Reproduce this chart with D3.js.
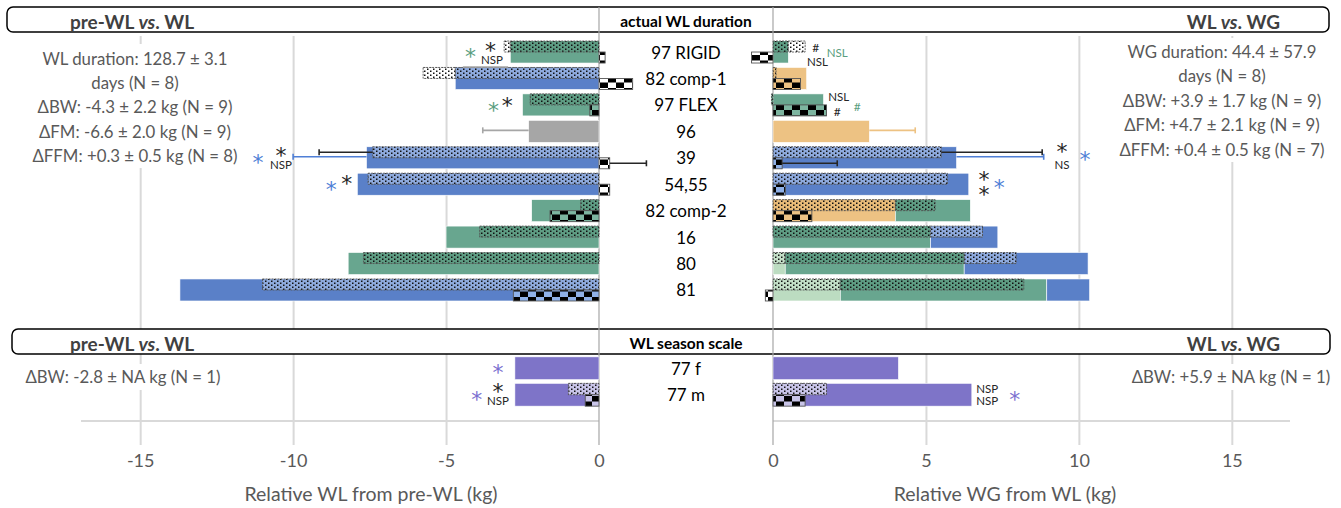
<!DOCTYPE html>
<html>
<head>
<meta charset="utf-8">
<script src="https://cdn.jsdelivr.net/npm/d3@7"></script>
<style>
  body { margin: 0; background: #fff; }
  svg text { font-family: Lato, "Open Sans", sans-serif; }
  svg text.star { font-family: "DejaVu Sans", sans-serif; }
</style>
</head>
<body>
<svg id="chart" width="1341" height="508"></svg>
<script>
// ---- data ----
var categories = ["97 RIGID", "82 comp-1", "97 FLEX", "96", "39", "54,55", "82 comp-2", "16", "80", "81"];
var seasonCategories = ["77 f", "77 m"];

var wlTicks = [-15, -10, -5, 0];
var wgTicks = [0, 5, 10, 15];

// segments: [category, start (kg), end (kg), colour]
var wlBW = [
  ["97 RIGID", 0, -2.9, "green"], ["82 comp-1", 0, -4.7, "blue"], ["97 FLEX", 0, -2.5, "green"],
  ["96", 0, -2.3, "gray"], ["39", 0, -7.6, "blue"], ["54,55", 0, -7.9, "blue"],
  ["82 comp-2", 0, -2.2, "green"], ["16", 0, -5.0, "green"], ["80", 0, -8.2, "green"],
  ["81", 0, -13.7, "blue"], ["77 f", 0, -2.75, "purple"], ["77 m", 0, -2.75, "purple"]
];
var wlFM = [
  ["97 RIGID", 0, -2.9, "green"], ["97 RIGID", -2.9, -3.1, "white"],
  ["82 comp-1", 0, -4.7, "blue"], ["82 comp-1", -4.7, -5.75, "white"],
  ["97 FLEX", 0, -2.25, "green"], ["39", 0, -7.4, "blue"], ["54,55", 0, -7.55, "blue"],
  ["82 comp-2", 0, -0.6, "green"], ["16", 0, -3.9, "green"], ["80", 0, -7.7, "green"],
  ["81", 0, -11.0, "blue"], ["77 m", 0, -1.0, "purple"]
];
var wlFFM = [
  ["97 RIGID", 0, 0.2, "white"], ["82 comp-1", 0, 1.1, "white"], ["97 FLEX", 0, -0.3, "green"],
  ["39", 0, 0.35, "white"], ["54,55", 0, 0.35, "white"], ["82 comp-2", 0, -1.6, "green"],
  ["81", 0, -2.8, "blue"], ["77 m", 0, -0.45, "purple"]
];
var wgBW = [
  ["97 RIGID", 0, 0.5, "green"], ["82 comp-1", 0, 1.1, "orange"], ["97 FLEX", 0, 1.65, "green"],
  ["96", 0, 3.15, "orange"], ["39", 0, 6.0, "blue"], ["54,55", 0, 6.4, "blue"],
  ["82 comp-2", 0, 4.0, "orange"], ["82 comp-2", 4.0, 6.45, "green"],
  ["16", 0, 5.15, "green"], ["16", 5.15, 7.35, "blue"],
  ["80", 0, 0.4, "lightgreen"], ["80", 0.4, 6.25, "green"], ["80", 6.25, 10.3, "blue"],
  ["81", 0, 2.2, "lightgreen"], ["81", 2.2, 8.95, "green"], ["81", 8.95, 10.35, "blue"],
  ["77 f", 0, 4.1, "purple"], ["77 m", 0, 6.5, "purple"]
];
var wgFM = [
  ["97 RIGID", 0, 0.5, "green"], ["97 RIGID", 0.5, 1.05, "white"], ["82 comp-1", 0, 0.1, "orange"],
  ["97 FLEX", 0, -0.05, "green"], ["39", 0, 5.5, "blue"], ["54,55", 0, 5.7, "blue"],
  ["82 comp-2", 0, 4.0, "orange"], ["82 comp-2", 4.0, 5.3, "green"],
  ["16", 0, 5.15, "green"], ["16", 5.15, 6.85, "blue"],
  ["80", 0, 0.4, "lightgreen"], ["80", 0.4, 6.25, "green"], ["80", 6.25, 7.95, "blue"],
  ["81", 0, 2.2, "lightgreen"], ["81", 2.2, 8.2, "green"], ["77 m", 0, 1.75, "purple"]
];
var wgFFM = [
  ["97 RIGID", 0, -0.7, "white"], ["82 comp-1", 0, 0.9, "orange"], ["97 FLEX", 0, 1.75, "green"],
  ["39", 0, 0.3, "blue"], ["54,55", 0, 0.4, "blue"], ["82 comp-2", 0, 1.27, "orange"],
  ["81", 0, -0.25, "white"], ["77 m", 0, 1.05, "purple"]
];

// error bars: [category, part, from (kg), to (kg), colour]
var wlErrors = [
  ["97 RIGID", "below", -2.97, -4.45, "gray"], ["96", "BW", -2.3, -3.8, "gray"],
  ["39", "FM", -7.4, -9.15, "dark"], ["39", "BW", -7.6, -10.0, "blue"], ["39", "FFM", 0.35, 1.55, "dark"]
];
var wgErrors = [
  ["96", "BW", 3.15, 4.65, "orange"], ["39", "FM", 5.5, 8.8, "dark"],
  ["39", "BW", 6.0, 8.85, "blue"], ["39", "FFM", 0.3, 2.1, "dark"]
];

// significance marks: [category, at (kg), text, colour]
var wlMarks = [
  ["97 RIGID", -4.2, "*", "green"], ["97 RIGID", -3.55, "*", "dark"], ["97 RIGID", -3.5, "NSP", "dark"],
  ["97 FLEX", -3.45, "*", "green"], ["97 FLEX", -3.0, "*", "dark"],
  ["39", -11.15, "*", "blue"], ["39", -10.4, "*", "dark"], ["39", -10.4, "NSP", "dark"],
  ["54,55", -8.75, "*", "blue"], ["54,55", -8.25, "*", "dark"],
  ["77 f", -3.3, "*", "purple"], ["77 m", -4.0, "*", "purple"], ["77 m", -3.3, "*", "dark"], ["77 m", -3.3, "NSP", "dark"]
];
var wgMarks = [
  ["97 RIGID", 1.4, "#", "dark"], ["97 RIGID", 2.1, "NSL", "green"], ["97 RIGID", 1.45, "NSL", "dark"],
  ["97 FLEX", 2.15, "NSL", "dark"], ["97 FLEX", 2.1, "#", "dark"], ["97 FLEX", 2.75, "#", "green"],
  ["39", 9.45, "*", "dark"], ["39", 9.45, "NS", "dark"], ["39", 10.2, "*", "blue"],
  ["54,55", 6.9, "*", "dark"], ["54,55", 6.9, "*", "dark"], ["54,55", 7.4, "*", "blue"],
  ["77 m", 7.0, "NSP", "dark"], ["77 m", 7.0, "NSP", "dark"], ["77 m", 7.9, "*", "purple"]
];
// vertical offsets of the marks above, in px from the row centre (layout only)
var wlMarkDy = [0, -6, 8, 1, -4, 0, -7, 7, 1, -5, 0, 0, -8, 6];
var wgMarkDy = [-4, 1, 10, -8, 7, 2, -11, 7, -3, -9, 6, -1, -6, 6, 0];

var wlInfo = ["WL duration: 128.7 ± 3.1", "days (N = 8)", "ΔBW: -4.3 ± 2.2 kg (N = 9)", "ΔFM: -6.6 ± 2.0 kg (N = 9)", "ΔFFM: +0.3 ± 0.5 kg (N = 8)"];
var wgInfo = ["WG duration: 44.4 ± 57.9", "days (N = 8)", "ΔBW: +3.9 ± 1.7 kg (N = 9)", "ΔFM: +4.7 ± 2.1 kg (N = 9)", "ΔFFM: +0.4 ± 0.5 kg (N = 7)"];
var seasonWlInfo = "ΔBW: -2.8 ± NA kg (N = 1)";
var seasonWgInfo = "ΔBW: +5.9 ± NA kg (N = 1)";

// ---- styling ----
var solid = {blue: "#5a80c8", green: "#68a68f", orange: "#edc283", gray: "#a6a6a6", lightgreen: "#bcdcc1", purple: "#7e74c8", white: "#ffffff"};
var dotBg = {blue: "#8eaadd", green: "#5e9c83", orange: "#e9bb78", lightgreen: "#c3dfc7", purple: "#c8c4e8", white: "#ffffff"};
var chkBg = {blue: "#8fb1e8", green: "#7db5a0", orange: "#edc283", purple: "#c8c4e8", white: "#ffffff"};
var inkColor = {dark: "#262626", blue: "#4f7fd6", green: "#5a9e80", purple: "#7b6fd0", gray: "#a6a6a6", orange: "#edc283"};

var svg = d3.select("#chart");
var defs = svg.append("defs");

Object.keys(dotBg).forEach(function (k) {
  var p = defs.append("pattern").attr("id", "dot-" + k).attr("patternUnits", "userSpaceOnUse")
    .attr("width", 6).attr("height", 4);
  p.append("rect").attr("width", 6).attr("height", 4).attr("fill", dotBg[k]);
  p.append("rect").attr("x", 1).attr("y", 0.5).attr("width", 1.5).attr("height", 1.5).attr("fill", "#111");
  p.append("rect").attr("x", 4).attr("y", 2.5).attr("width", 1.5).attr("height", 1.5).attr("fill", "#111");
});
Object.keys(chkBg).forEach(function (k) {
  var p = defs.append("pattern").attr("id", "chk-" + k).attr("patternUnits", "userSpaceOnUse")
    .attr("width", 16).attr("height", 11);
  p.append("rect").attr("width", 16).attr("height", 11).attr("fill", chkBg[k]);
  p.append("rect").attr("x", 0).attr("y", 0).attr("width", 8).attr("height", 5.5).attr("fill", "#000");
  p.append("rect").attr("x", 8).attr("y", 5.5).attr("width", 8).attr("height", 5.5).attr("fill", "#000");
});

// ---- scales ----
var xL = d3.scaleLinear().domain([-17, 0]).range([79, 599]);
var xR = d3.scaleLinear().domain([0, 17]).range([773, 1293]);
var yTop = d3.scaleBand().domain(categories).range([38.8, 303.2]).paddingInner(0.168).paddingOuter(0.084);
var ySea = d3.scaleBand().domain(seasonCategories).range([355, 408]).paddingInner(0.14).paddingOuter(0.07);

function yOf(cat) { return categories.indexOf(cat) >= 0 ? yTop : ySea; }

var GRID_TOP = 36, GRID_BOT = 445, AXIS_Y = 421;

// gridlines
function grid(x, ticks) {
  var ax = d3.axisBottom(x).tickValues(ticks).tickSize(-(GRID_BOT - GRID_TOP)).tickFormat("");
  var g = svg.append("g").attr("transform", "translate(0," + GRID_BOT + ")").call(ax);
  g.select(".domain").remove();
  g.selectAll("line").attr("stroke", "#d9d9d9").attr("stroke-width", 2);
}
grid(xL, [-15, -10, -5]);
grid(xR, [5, 10, 15]);

svg.append("line").attr("x1", xL(-17) + 2).attr("x2", xL(0)).attr("y1", AXIS_Y).attr("y2", AXIS_Y)
  .attr("stroke", "#d9d9d9").attr("stroke-width", 2);
svg.append("line").attr("x1", xR(0)).attr("x2", xR(17) - 3).attr("y1", AXIS_Y).attr("y2", AXIS_Y)
  .attr("stroke", "#d9d9d9").attr("stroke-width", 2);

// info text blocks (white backing hides gridlines)
function infoBlock(lines, cx, y0, step, bg) {
  svg.append("rect").attr("x", bg[0]).attr("y", bg[1]).attr("width", bg[2]).attr("height", bg[3]).attr("fill", "#fff");
  svg.append("g").selectAll("text").data(lines).join("text")
    .attr("x", cx).attr("y", function (d, i) { return y0 + i * step; })
    .attr("text-anchor", "middle").attr("dominant-baseline", "central")
    .attr("font-size", 16.8).attr("fill", "#595959").text(function (d) { return d; });
}
infoBlock(wlInfo, 135, 58, 24.4, [26, 44, 218, 124]);
infoBlock(wgInfo, 1222, 51, 24.5, [1114, 38, 220, 124]);
infoBlock([seasonWlInfo], 123, 376, 0, [20, 364, 210, 26]);
infoBlock([seasonWgInfo], 1231, 376, 0, [1126, 364, 210, 26]);

// header boxes
function header(y, h, x0, x1, left, mid, right) {
  svg.append("rect").attr("x", x0).attr("y", y).attr("width", x1 - x0).attr("height", h).attr("rx", 6)
    .attr("fill", "#fff").attr("stroke", "#000").attr("stroke-width", 1.5);
  var cy = y + h / 2 + 1;
  function t(x, anchor, size, col, parts) {
    var el = svg.append("text").attr("x", x).attr("y", cy).attr("text-anchor", anchor)
      .attr("dominant-baseline", "central").attr("font-weight", "bold").attr("font-size", size).attr("fill", col);
    parts.forEach(function (p) {
      el.append("tspan").attr("font-style", p[1] ? "italic" : null).text(p[0]);
    });
  }
  t(70, "start", 19, "#404040", left);
  t(686, "middle", 15.5, "#000", [[mid, false]]);
  t(1280, "end", 19, "#404040", right);
}
header(7, 25, 7, 1329, [["pre-WL ", false], ["vs", true], [". WL", false]], "actual WL duration", [["WL ", false], ["vs", true], [". WG", false]]);
header(329, 25, 12, 1330, [["pre-WL ", false], ["vs", true], [". WL", false]], "WL season scale", [["WL ", false], ["vs", true], [". WG", false]]);

// zero lines
[xL(0), xR(0)].forEach(function (x) {
  svg.append("line").attr("x1", x).attr("x2", x).attr("y1", 7).attr("y2", GRID_BOT)
    .attr("stroke", "#a6a6a6").attr("stroke-width", 1.2);
});

// bars
function bars(data, x, part) {
  svg.append("g").selectAll("rect").data(data).join("rect")
    .attr("x", function (d) { return Math.min(x(d[1]), x(d[2])); })
    .attr("width", function (d) { return Math.abs(x(d[2]) - x(d[1])); })
    .attr("y", function (d) {
      var y = yOf(d[0]);
      return part === "FFM" ? y(d[0]) + y.bandwidth() / 2 : y(d[0]);
    })
    .attr("height", function (d) {
      var y = yOf(d[0]);
      return part === "BW" ? y.bandwidth() : y.bandwidth() / 2;
    })
    .attr("fill", function (d) {
      if (part === "BW") return solid[d[3]];
      return "url(#" + (part === "FM" ? "dot-" : "chk-") + d[3] + ")";
    })
    .attr("stroke", part === "BW" ? "#fff" : "#555")
    .attr("stroke-width", part === "BW" ? 0.6 : 0.9)
    .attr("stroke-dasharray", part === "FM" ? "2,1" : null);
}
bars(wlBW, xL, "BW"); bars(wgBW, xR, "BW");
bars(wlFM, xL, "FM"); bars(wgFM, xR, "FM");
bars(wlFFM, xL, "FFM"); bars(wgFFM, xR, "FFM");

// error bars
function errors(data, x) {
  data.forEach(function (d) {
    var y = yOf(d[0]), top = y(d[0]), bw = y.bandwidth();
    var yy = d[1] === "FM" ? top + bw / 4 : d[1] === "FFM" ? top + bw * 3 / 4 : d[1] === "below" ? top + bw + 4 : top + bw / 2 - 1;
    var g = svg.append("g").attr("stroke", inkColor[d[4]]).attr("stroke-width", 1.6);
    g.append("line").attr("x1", x(d[2])).attr("x2", x(d[3])).attr("y1", yy).attr("y2", yy);
    if (d[1] !== "below")
      g.append("line").attr("x1", x(d[3])).attr("x2", x(d[3])).attr("y1", yy - 3).attr("y2", yy + 3);
  });
}
errors(wlErrors, xL);
errors(wgErrors, xR);

// significance marks
function marks(data, dys, x) {
  data.forEach(function (d, i) {
    var y = yOf(d[0]);
    var cy = y(d[0]) + y.bandwidth() / 2 + dys[i];
    var star = d[2] === "*";
    svg.append("text").attr("class", star ? "star" : null)
      .attr("x", x(d[1])).attr("y", cy)
      .attr("dy", star ? "0.55em" : "0.35em")
      .attr("text-anchor", "middle")
      .attr("font-size", star ? 22 : d[2] === "#" ? 12 : 11.5)
      .attr("fill", inkColor[d[3]]).text(d[2]);
  });
}
marks(wlMarks, wlMarkDy, xL);
marks(wgMarks, wgMarkDy, xR);

// category labels
function catLabels(cats, y) {
  svg.append("g").selectAll("text").data(cats).join("text")
    .attr("x", 686).attr("y", function (d) { return y(d) + y.bandwidth() / 2; })
    .attr("text-anchor", "middle").attr("dominant-baseline", "central")
    .attr("font-size", 17).attr("fill", "#000").text(function (d) { return d; });
}
catLabels(categories, yTop);
catLabels(seasonCategories, ySea);

// tick labels
function tickLabels(x, ticks) {
  var ax = d3.axisBottom(x).tickValues(ticks).tickSize(0).tickPadding(0)
    .tickFormat(function (d) { return d < 0 ? "-" + Math.abs(d) : d; });
  var g = svg.append("g").attr("transform", "translate(0,454)").call(ax);
  g.select(".domain").remove();
  g.selectAll("text").attr("font-size", 18).attr("fill", "#595959");
}
tickLabels(xL, wlTicks);
tickLabels(xR, wgTicks);

svg.append("text").attr("x", 371).attr("y", 493).attr("text-anchor", "middle").attr("dominant-baseline", "central")
  .attr("font-size", 19.5).attr("fill", "#595959").text("Relative WL from pre-WL (kg)");
svg.append("text").attr("x", 1005).attr("y", 493).attr("text-anchor", "middle").attr("dominant-baseline", "central")
  .attr("font-size", 19.5).attr("fill", "#595959").text("Relative WG from WL (kg)");
</script>
</body>
</html>
